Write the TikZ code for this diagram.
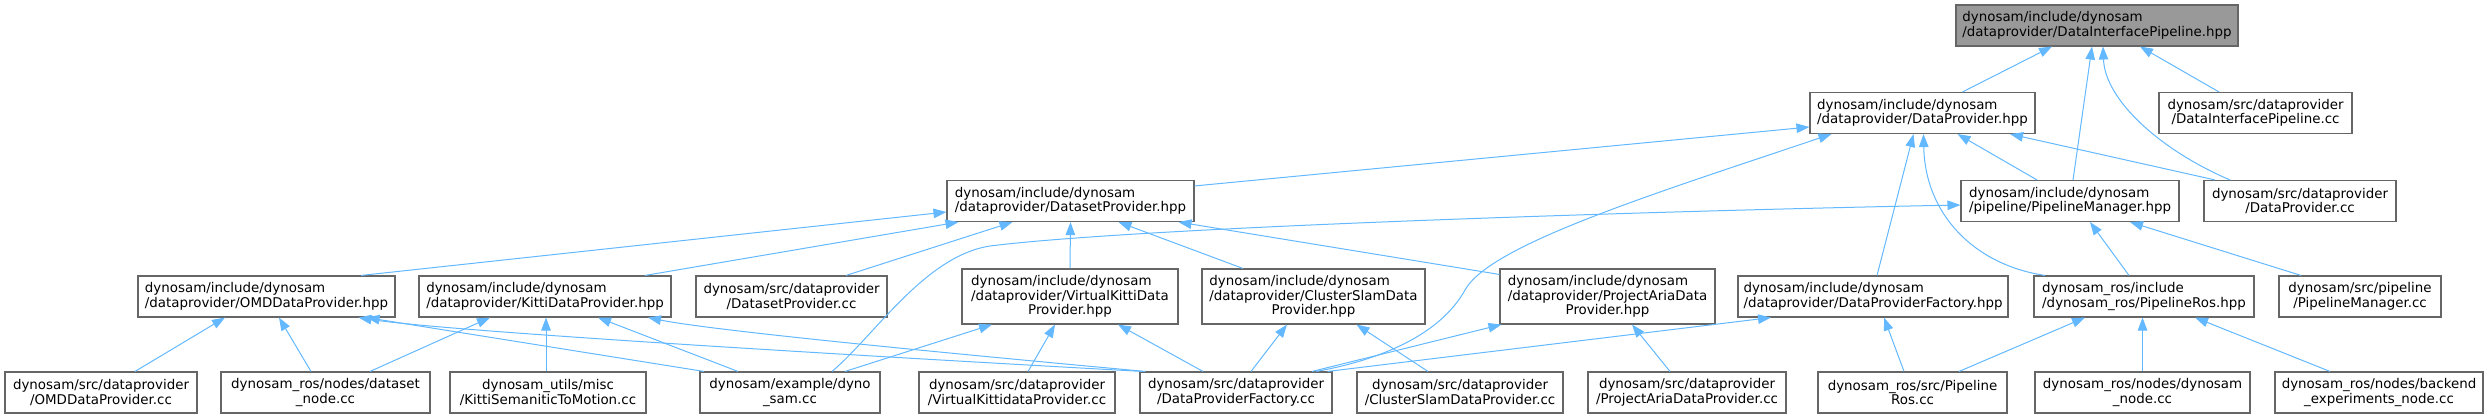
\documentclass[tikz,border=0pt]{standalone}
\usepackage{fontspec}
\setmainfont{DejaVu Sans}
\usetikzlibrary{arrows.meta}
\definecolor{edgec}{HTML}{63B8FF}
\definecolor{bordc}{HTML}{666666}
\definecolor{rootc}{HTML}{999999}
\newcommand\LA[2]{\rlap{#1}\phantom{#2}\\#2}
\begin{document}
\begin{tikzpicture}[x=1pt,y=-1pt,
  nd/.style={draw=bordc, fill=white, line width=1.1pt, inner sep=0pt, align=center,
    font=\fontsize{13.4}{14.5}\selectfont, text=black, minimum height=41pt},
  tall/.style={minimum height=55pt},
  conn/.style={draw=edgec, line width=1pt, -{Triangle[length=13pt,width=9.5pt]}}]
\useasboundingbox (0,0) rectangle (2491,417);
% row 0
\node[nd, fill=rootc, minimum width=282pt] (root) at (2097,25.5) {\LA{dynosam/include/dynosam}{/dataprovider/DataInterfacePipeline.hpp}};
% row 1
\node[nd, minimum width=225pt] (dp) at (1922.5,113) {\LA{dynosam/include/dynosam}{/dataprovider/DataProvider.hpp}};
\node[nd, minimum width=193pt] (dipcc) at (2255.5,113) {dynosam/src/dataprovider\\/DataInterfacePipeline.cc};
% row 2
\node[nd, minimum width=247pt] (dsp) at (1070.5,201) {\LA{dynosam/include/dynosam}{/dataprovider/DatasetProvider.hpp}};
\node[nd, minimum width=218pt] (pmh) at (2070,201) {\LA{dynosam/include/dynosam}{/pipeline/PipelineManager.hpp}};
\node[nd, minimum width=192pt] (dpcc) at (2300,201) {dynosam/src/dataprovider\\/DataProvider.cc};
% row 3
\node[nd, minimum width=257pt] (omd) at (266.5,296.5) {\LA{dynosam/include/dynosam}{/dataprovider/OMDDataProvider.hpp}};
\node[nd, minimum width=252pt] (kitti) at (545,296.5) {\LA{dynosam/include/dynosam}{/dataprovider/KittiDataProvider.hpp}};
\node[nd, minimum width=191pt] (dspcc) at (791.5,296.5) {dynosam/src/dataprovider\\/DatasetProvider.cc};
\node[nd, tall, minimum width=216pt] (vk) at (1070,296.5) {\LA{dynosam/include/dynosam}{/dataprovider/VirtualKittiData}\\Provider.hpp};
\node[nd, tall, minimum width=223pt] (cs) at (1313.5,296.5) {\LA{dynosam/include/dynosam}{/dataprovider/ClusterSlamData}\\Provider.hpp};
\node[nd, tall, minimum width=215pt] (pa) at (1607.5,296.5) {\LA{dynosam/include/dynosam}{/dataprovider/ProjectAriaData}\\Provider.hpp};
\node[nd, minimum width=270pt] (dpfh) at (1873,296.5) {\LA{dynosam/include/dynosam}{/dataprovider/DataProviderFactory.hpp}};
\node[nd, minimum width=220pt] (prh) at (2144,296.5) {\LA{dynosam\_ros/include}{/dynosam\_ros/PipelineRos.hpp}};
\node[nd, minimum width=162pt] (pmcc) at (2360,296.5) {dynosam/src/pipeline\\/PipelineManager.cc};
% row 4
\node[nd, minimum width=192pt] (omdcc) at (101,392.5) {dynosam/src/dataprovider\\/OMDDataProvider.cc};
\node[nd, minimum width=209pt] (dsnode) at (325.5,392.5) {dynosam\_ros/nodes/dataset\\\_node.cc};
\node[nd, minimum width=196pt] (kstm) at (548,392.5) {dynosam\_utils/misc\\/KittiSemaniticToMotion.cc};
\node[nd, minimum width=180pt] (dyno) at (790,392.5) {dynosam/example/dyno\\\_sam.cc};
\node[nd, minimum width=196pt] (vkcc) at (1017,392.5) {dynosam/src/dataprovider\\/VirtualKittidataProvider.cc};
\node[nd, minimum width=192pt] (dpfcc) at (1236,392.5) {dynosam/src/dataprovider\\/DataProviderFactory.cc};
\node[nd, minimum width=206pt] (cscc) at (1460,392.5) {dynosam/src/dataprovider\\/ClusterSlamDataProvider.cc};
\node[nd, minimum width=198pt] (pacc) at (1687,392.5) {dynosam/src/dataprovider\\/ProjectAriaDataProvider.cc};
\node[nd, minimum width=189pt] (prcc) at (1912.5,392.5) {dynosam\_ros/src/Pipeline\\Ros.cc};
\node[nd, minimum width=215pt] (dnode) at (2142.5,392.5) {dynosam\_ros/nodes/dynosam\\\_node.cc};
\node[nd, minimum width=208pt] (bnode) at (2379,392.5) {dynosam\_ros/nodes/backend\\\_experiments\_node.cc};
% edges into root
\draw[conn] ([xshift=40pt]dp.north) -- ([xshift=-45pt]root.south);
\draw[conn] ([xshift=3pt]pmh.north) -- ([xshift=-5pt]root.south);
\draw[conn] ([xshift=-70pt]dpcc.north) .. controls (2160,150) and (2105,100) .. ([xshift=6pt]root.south);
\draw[conn] ([xshift=-36.5pt]dipcc.north) -- ([xshift=43pt]root.south);
% edges into DataProvider.hpp
\draw[conn] ([yshift=-6pt]dsp.north east) -- ([yshift=-14pt]dp.west);
\draw[conn] ([xshift=80pt]dpfcc.north) .. controls (1380,360) and (1440,335) .. (1465,290) .. controls (1490,245) and (1650,195) .. ([xshift=-91pt]dp.south);
\draw[conn] ([xshift=-33pt]pmh.north) -- ([xshift=35pt]dp.south);
\draw[conn] ([xshift=-85pt]dpcc.north) -- ([xshift=87.5pt]dp.south);
\draw[conn] ([xshift=4pt]dpfh.north) -- ([xshift=-9pt]dp.south);
\draw[conn] ([xshift=-99pt]prh.north) .. controls (1975,265) and (1925,215) .. ([xshift=1pt]dp.south);
% edges into PipelineManager.hpp
\draw[conn] ([xshift=-15pt]prh.north) -- ([xshift=20pt]pmh.south);
\draw[conn] ([xshift=-59pt]pmcc.north) -- ([xshift=60pt]pmh.south);
\draw[conn] ([xshift=42pt]dyno.north) .. controls (875,335) and (925,256) .. (990,246) .. controls (1150,226) and (1700,210) .. ([yshift=-4pt]pmh.west);
% edges into DatasetProvider.hpp
\draw[conn] ([xshift=94.5pt]omd.north) -- ([yshift=-11pt]dsp.west);
\draw[conn] ([xshift=100pt]kitti.north) -- ([xshift=-112pt]dsp.south);
\draw[conn] ([xshift=54.5pt]dspcc.north) -- ([xshift=-58pt]dsp.south);
\draw[conn] (vk.north) -- (dsp.south);
\draw[conn] ([xshift=-70.5pt]cs.north) -- ([xshift=48pt]dsp.south);
\draw[conn] ([yshift=-6pt]pa.north west) -- ([xshift=108pt]dsp.south);
% edges into OMDDataProvider.hpp
\draw[conn] ([xshift=34pt]omdcc.north) -- ([xshift=-41.5pt]omd.south);
\draw[conn] ([xshift=-14.5pt]dsnode.north) -- ([xshift=12.5pt]omd.south);
\draw[conn] ([xshift=-86pt]dyno.north) -- ([xshift=100pt]omd.south);
\draw[conn] ([xshift=3pt]dpfcc.north west) .. controls (900,358) and (450,332) .. ([xshift=92pt]omd.south);
% edges into KittiDataProvider.hpp
\draw[conn] ([xshift=44.5pt]dsnode.north) -- ([xshift=-55pt]kitti.south);
\draw[conn] ([xshift=-2pt]kstm.north) -- ([xshift=1pt]kitti.south);
\draw[conn] ([xshift=-52pt]dyno.north) -- ([xshift=53pt]kitti.south);
\draw[conn] ([xshift=6pt]dpfcc.north west) .. controls (1000,358) and (720,332) .. ([xshift=103pt]kitti.south);
% edges into VirtualKittiDataProvider.hpp
\draw[conn] ([xshift=55pt]dyno.north) -- ([xshift=-78pt]vk.south);
\draw[conn] ([xshift=11pt]vkcc.north) -- ([xshift=-15pt]vk.south);
\draw[conn] ([xshift=-33pt]dpfcc.north) -- ([xshift=48pt]vk.south);
% edges into ClusterSlamDataProvider.hpp
\draw[conn] ([xshift=15pt]dpfcc.north) -- ([xshift=-26.5pt]cs.south);
\draw[conn] ([xshift=-32pt]cscc.north) -- ([xshift=43pt]cs.south);
% edges into ProjectAriaDataProvider.hpp
\draw[conn] ([xshift=76pt]dpfcc.north) -- ([xshift=2pt]pa.south west);
\draw[conn] ([xshift=-17pt]pacc.north) -- ([xshift=24.5pt]pa.south);
% edges into DataProviderFactory.hpp
\draw[conn] ([xshift=-5pt]dpfcc.north east) -- ([xshift=-102pt]dpfh.south);
\draw[conn] ([xshift=-8.5pt]prcc.north) -- ([xshift=11pt]dpfh.south);
% edges into PipelineRos.hpp
\draw[conn] ([xshift=46.5pt]prcc.north) -- ([xshift=-59pt]prh.south);
\draw[conn] (dnode.north) -- ([xshift=-1.5pt]prh.south);
\draw[conn] ([xshift=-49pt]bnode.north) -- ([xshift=51pt]prh.south);
\end{tikzpicture}
\end{document}
